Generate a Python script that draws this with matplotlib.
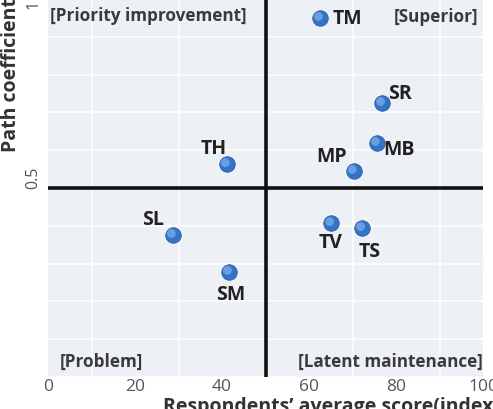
"""Importance-performance style quadrant chart."""

import matplotlib
matplotlib.use("Agg")
import matplotlib.pyplot as plt
from matplotlib.transforms import offset_copy

# data
codes = ["TM", "SR", "MB", "MP", "TH", "SL", "SM", "TV", "TS"]
avg_score = [62.5, 76.8, 75.6, 70.3, 41.1, 28.7, 41.6, 65.1, 72.2]
path_coef = [0.950, 0.725, 0.619, 0.545, 0.563, 0.376, 0.278, 0.407, 0.394]
x_ticks = [0, 20, 40, 60, 80, 100]
y_ticks = [0.5, 1]
y_tick_labels = ["0.5", "1"]
quadrant_names = ["[Priority improvement]", "[Superior]", "[Problem]", "[Latent maintenance]"]
x_cut = 50
y_cut = 0.5

# label placement: (dx px, dy px, ha)
label_pos = {
    "TM": (13, 0, "left"),
    "SR": (6, 10, "left"),
    "MB": (6, -6, "left"),
    "MP": (-7, 15, "right"),
    "TH": (0, 16, "right"),
    "SL": (-9, 16, "right"),
    "SM": (2, -22, "center"),
    "TV": (-1, -19, "center"),
    "TS": (8, -23, "center"),
}

plt.rcParams["font.family"] = ["Open Sans", "DejaVu Sans"]

fig = plt.figure(figsize=(4.93, 4.10), dpi=100)
ax = fig.add_axes([48 / 493, 1 - 378 / 410, 435 / 493, 378 / 410])
ax.set_facecolor("#edf0f5")
ax.set_xlim(0, 100)
ax.set_ylim(0, 1)
for s in ax.spines.values():
    s.set_visible(False)

ax.set_xticks(range(0, 101, 10), minor=True)
ax.set_yticks([i / 10 for i in range(11)], minor=True)
ax.grid(which="minor", color="white", linewidth=1.1)
ax.set_axisbelow(True)
ax.tick_params(which="both", length=0)

ax.set_xticks(x_ticks)
ax.set_xticklabels([str(t) for t in x_ticks], fontsize=12.5, color="#555555")
ax.set_yticks(y_ticks)
ax.set_yticklabels(y_tick_labels, fontsize=11.5, color="#555555", rotation=90, va="center")
ax.get_yticklabels()[0].set_va("bottom")
ax.get_yticklabels()[1].set_va("top")
ax.tick_params(axis="x", pad=1)
ax.tick_params(axis="y", pad=5)

ax.axvline(x_cut, color="#111111", linewidth=2.6, zorder=2)
ax.axhline(y_cut, color="#111111", linewidth=2.6, zorder=2)

# spheres: base disc plus a light highlight nudged up-left
ax.scatter(avg_score, path_coef, s=125, color="#3373c8", edgecolors="#24569c", linewidths=0.5, zorder=3)
hl = offset_copy(ax.transData, fig=fig, x=-1.5, y=1.5, units="dots")
ax.scatter(avg_score, path_coef, s=40, color="#7aaeea", edgecolors="none", alpha=0.75, transform=hl, zorder=4)

for code, x, y in zip(codes, avg_score, path_coef):
    dx, dy, ha = label_pos[code]
    ax.annotate(code, (x, y), xytext=(dx, dy), textcoords="offset pixels",
                ha=ha, va="center", fontsize=14, fontweight="bold", color="#222222", zorder=5)

qkw = dict(transform=ax.transAxes, fontsize=12.3, fontweight="bold", color="#3a3a3a", va="center")
ax.text(0.005, 0.958, quadrant_names[0], ha="left", **qkw)
ax.text(0.989, 0.955, quadrant_names[1], ha="right", **qkw)
ax.text(0.028, 0.042, quadrant_names[2], ha="left", **qkw)
ax.text(1.0, 0.042, quadrant_names[3], ha="right", **qkw)

fig.text(163 / 493, 1 - 397 / 410, "Respondents\u2019 average score(index)", ha="left", va="top",
         fontsize=14, fontweight="bold", color="#333333")
fig.text(11 / 493, 1 - 152 / 410, "Path coefficient", rotation=90, ha="center", va="bottom",
         fontsize=14, fontweight="bold", color="#333333")

fig.savefig("out.png", dpi=100)
